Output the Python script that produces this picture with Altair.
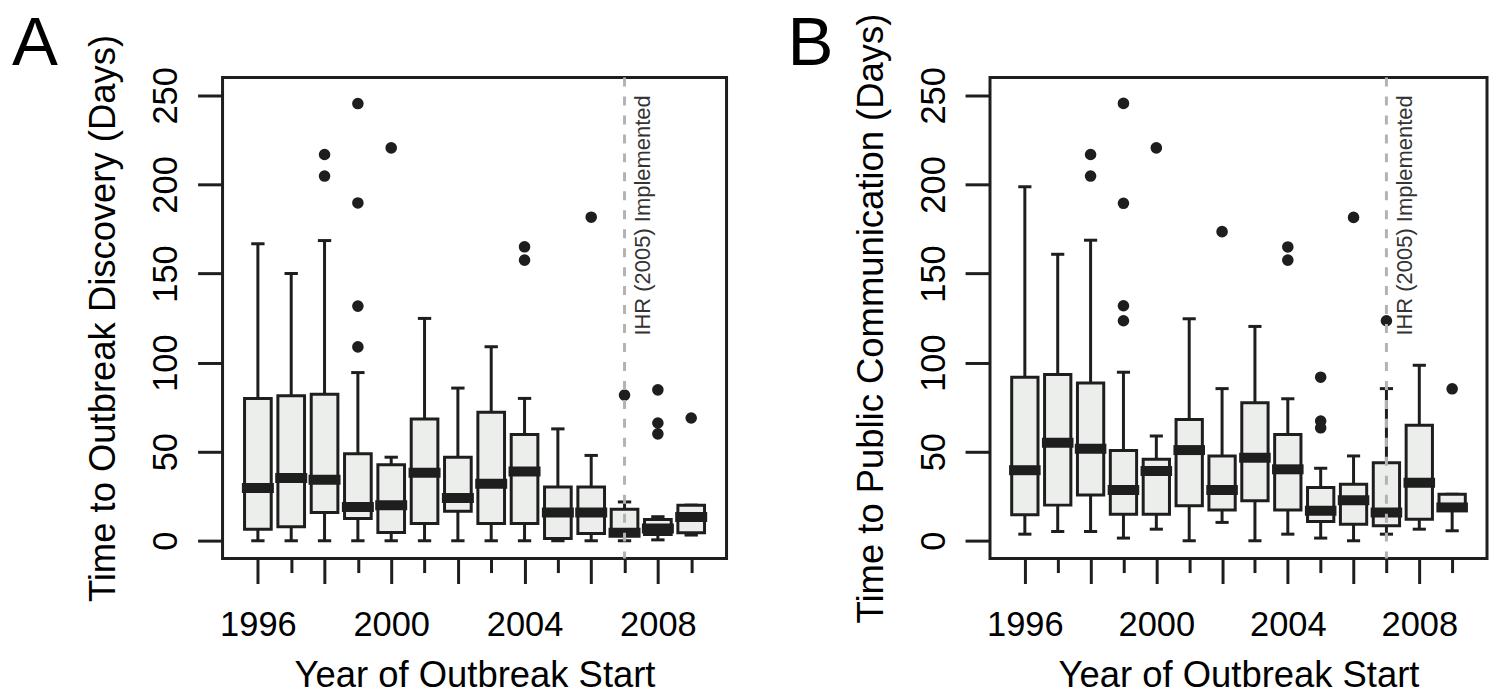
import altair as alt
import pandas as pd

# ---------------- data ----------------
YEARS = list(range(1996, 2010))

# Panel A: Time to Outbreak Discovery (Days)
A_LO  = [0, 0, 0, 0, 0, 0, 0, 0, 0, 0, 0, 0, 0.5, 3.2]
A_Q1  = [6.5, 7.8, 15.8, 12.5, 4.7, 9.7, 16.6, 9.7, 9.7, 1.3, 4.1, 3.2, 3.5, 4.5]
A_MED = [29.6, 35.2, 34.3, 19.0, 19.9, 38.2, 24.0, 32.0, 38.9, 15.8, 15.8, 4.5, 6.9, 13.4]
A_Q3  = [79.9, 81.4, 82.3, 48.8, 42.6, 68.3, 46.9, 72.1, 59.6, 30.2, 30.2, 17.7, 11.9, 19.9]
A_HI  = [166.7, 150.0, 168.5, 94.4, 46.9, 124.8, 85.7, 108.9, 79.9, 62.8, 47.9, 21.8, 13.5, 20.0]
A_OUT_YEAR = [1998, 1998, 1999, 1999, 1999, 1999, 2000, 2004, 2004, 2006, 2007, 2008, 2008, 2008, 2009]
A_OUT_VAL  = [216.8, 204.7, 245.4, 189.6, 131.7, 108.8, 220.5, 165.0, 157.5, 181.6, 81.8, 84.7, 66.1, 60.0, 68.9]

# Panel B: Time to Public Communication (Days)
B_LO  = [3.7, 5.2, 5.2, 1.5, 6.5, 0, 10.3, 0, 3.7, 1.5, 0, 3.7, 6.5, 5.6]
B_Q1  = [14.6, 20.0, 25.7, 14.9, 14.9, 19.6, 17.2, 22.4, 17.2, 10.8, 9.3, 8.4, 12.1, 18.7]
B_MED = [39.6, 55.0, 51.7, 28.5, 39.2, 50.9, 28.5, 46.6, 40.1, 16.8, 22.8, 15.9, 32.6, 18.7]
B_Q3  = [91.8, 93.3, 88.6, 50.7, 45.7, 68.1, 47.6, 77.4, 59.7, 29.9, 31.7, 43.8, 64.9, 26.1]
B_HI  = [198.7, 160.8, 168.7, 94.6, 58.8, 124.6, 85.4, 120.3, 79.7, 40.7, 47.6, 85.4, 98.5, 26.1]
B_OUT_YEAR = [1998, 1998, 1999, 1999, 1999, 1999, 2000, 2002, 2004, 2004, 2005, 2005, 2005, 2006, 2007, 2009]
B_OUT_VAL  = [216.8, 204.7, 245.5, 189.4, 131.9, 123.5, 220.5, 173.5, 164.9, 157.5, 91.8, 67.2, 63.4, 181.5, 123.5, 85.3]

Y_TICKS = [0, 50, 100, 150, 200, 250]
IHR_YEAR = 2007
IHR_Y = 250
IHR_LABEL = "IHR (2005) Implemented"
X_TITLE = "Year of Outbreak Start"
A_TITLE = "Time to Outbreak Discovery (Days)"
B_TITLE = "Time to Public Communication (Days)"

# ---------------- style ----------------
FONT = "Liberation Sans"
INK = "#1e1e1e"
BOX_FILL = "#ECEEEC"
X_DOMAIN = [1994.94, 2010.06]
Y_DOMAIN = [-10, 260]
PLOT_H = 482


def panel(lo, q1, med, q3, hi, oy, ov, ytitle, letter, width, letter_dx):
    stats = pd.DataFrame({"year": YEARS, "lo": lo, "q1": q1, "med": med, "q3": q3, "hi": hi})
    outl = pd.DataFrame({"year": oy, "value": ov})
    xs = alt.Scale(domain=X_DOMAIN, nice=False, zero=False)
    ys = alt.Scale(domain=Y_DOMAIN, nice=False, zero=False)
    xaxis = alt.Axis(
        values=YEARS, format="d",
        labelExpr="datum.value % 4 === 0 ? datum.label : ''",
        tickSize={"condition": {"test": "datum.value % 2 === 0", "value": 25}, "value": 14},
        labelPadding=25, labelFontSize=34.5, labelFlush=False, labelOverlap=False,
        titleFontSize=36.5, titleBaseline="alphabetic", titleY=128,
    )
    yaxis = alt.Axis(
        values=Y_TICKS, tickSize=25,
        labelAngle=270, labelAlign="center", labelBaseline="middle",
        labelPadding=31, labelFontSize=34.5, labelFlush=False, labelOverlap=False,
        titleAngle=270, titleAlign="center", titleBaseline="middle",
        titleX=-119, titleFontSize=36.5,
    )

    def X(f):
        return alt.X(f, type="quantitative", scale=xs, axis=xaxis, title=X_TITLE)

    def Y(f):
        return alt.Y(f, type="quantitative", scale=ys, axis=yaxis, title=ytitle)

    base = alt.Chart(stats)
    whisk = base.mark_rule(color=INK, strokeWidth=3).encode(x=X("year"), y=Y("lo"), y2="hi")
    box = base.transform_calculate(
        x0="datum.year - 0.4", x1="datum.year + 0.4"
    ).mark_rect(fill=BOX_FILL, stroke=INK, strokeWidth=3).encode(
        x=X("x0"), x2="x1", y=Y("q1"), y2="q3")
    caps = base.transform_calculate(
        c0="datum.year - 0.2", c1="datum.year + 0.2"
    ).transform_fold(["lo", "hi"], as_=["end", "val"]).mark_rule(
        color=INK, strokeWidth=3).encode(x=X("c0"), x2="c1", y=Y("val"))
    median = base.transform_calculate(
        m0="datum.year - 0.48", m1="datum.year + 0.48"
    ).mark_rule(color=INK, strokeWidth=10, strokeCap="butt").encode(
        x=X("m0"), x2="m1", y=Y("med"))
    pts = alt.Chart(outl).mark_circle(size=135, color=INK, opacity=1).encode(
        x=X("year"), y=Y("value"))
    line = alt.Chart(pd.DataFrame({"year": [IHR_YEAR]})).mark_rule(
        color="#b3b3b3", strokeWidth=3, strokeDash=[9, 10]).encode(x=X("year"))
    txt = alt.Chart(pd.DataFrame({"year": [IHR_YEAR], "y": [IHR_Y], "label": [IHR_LABEL]})).mark_text(
        angle=270, align="right", baseline="alphabetic", dy=26,
        fontSize=22, font=FONT, color="#333333").encode(
        x=X("year"), y=Y("y"), text="label:N")
    tag = alt.Chart(pd.DataFrame({"letter": [letter]})).mark_text(
        align="left", baseline="alphabetic", fontSize=69, font=FONT, color="#000000").encode(
        x=alt.value(letter_dx), y=alt.value(-13), text="letter:N")

    return alt.layer(whisk, caps, box, median, pts, line, txt, tag).properties(
        width=width, height=PLOT_H)


pa = panel(A_LO, A_Q1, A_MED, A_Q3, A_HI, A_OUT_YEAR, A_OUT_VAL, A_TITLE, "A", 505, -211)
pb = panel(B_LO, B_Q1, B_MED, B_Q3, B_HI, B_OUT_YEAR, B_OUT_VAL, B_TITLE, "B", 498, -203)

chart = alt.hconcat(pa, pb, spacing=264, bounds="flush").properties(
    padding={"left": 10, "top": 7, "right": 0, "bottom": 0},
    background="white",
).configure_view(
    stroke=INK, strokeWidth=3
).configure_axis(
    domain=False, grid=False, tickColor=INK, tickWidth=3,
    labelColor="#000000", titleColor="#000000",
    labelFont=FONT, titleFont=FONT, titleFontWeight="normal",
)

chart.save("out.html", embed_options={"renderer": "svg", "actions": False})
